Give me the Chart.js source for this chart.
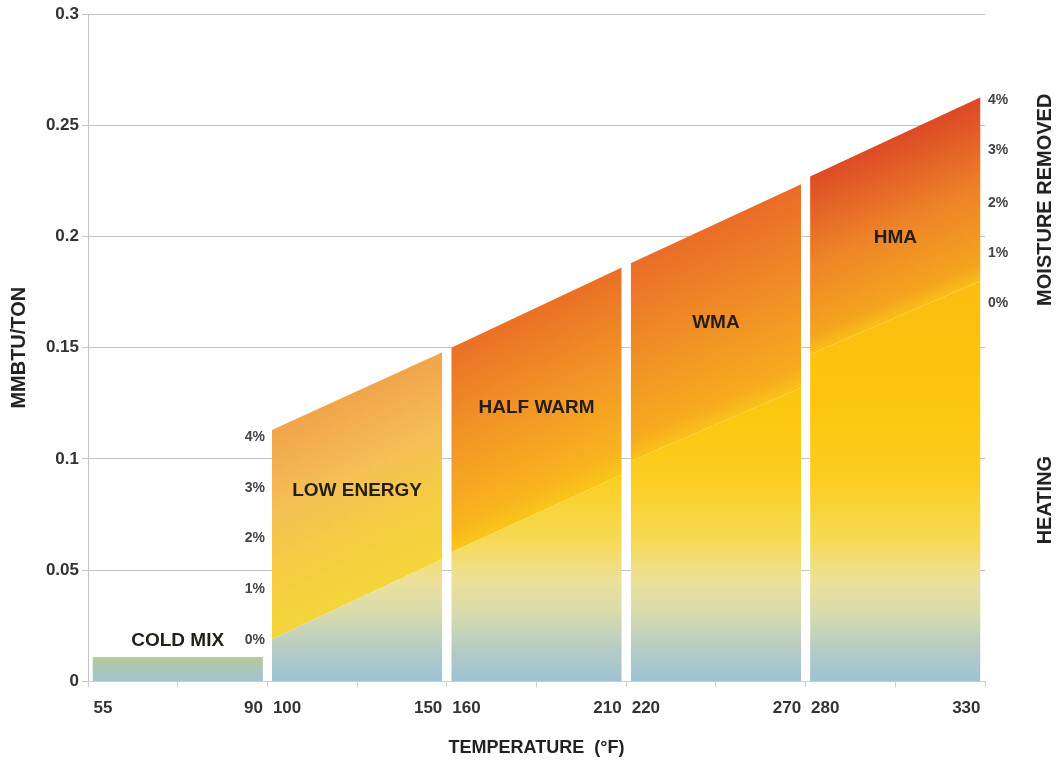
<!DOCTYPE html>
<html>
<head>
<meta charset="utf-8">
<script src="https://cdn.jsdelivr.net/npm/chart.js@4.4.1/dist/chart.umd.min.js"></script>
<style>
  html, body { margin: 0; padding: 0; background: #fff; }
</style>
</head>
<body>
<canvas id="chart" width="1058" height="764"></canvas>
<script>
// panels (temperature ranges and energy levels)
const panelNames = ["COLD MIX", "LOW ENERGY", "HALF WARM", "WMA", "HMA"];
const tempStart = [55, 100, 160, 220, 280];
const tempEnd = [90, 150, 210, 270, 330];
const topStart = [0.011, 0.113, 0.150, 0.188, 0.227];
const topEnd = [0.011, 0.148, 0.186, 0.2235, 0.2626];
const heatStart = [0.011, 0.019, 0.058, 0.099, 0.147];
const heatEnd = [0.011, 0.055, 0.093, 0.132, 0.180];
const nameLevel = [0.0184, 0.0859, 0.1232, 0.1614, 0.1992];

// moisture scale labels
const pctLabels = ["0%", "1%", "2%", "3%", "4%"];
const pctLow = [0.0184, 0.0414, 0.0643, 0.0868, 0.1097];
const pctHigh = [0.170, 0.1925, 0.2149, 0.2388, 0.2612];

const sideTitles = ["MOISTURE REMOVED", "HEATING"];
const sideLevel = [0.2165, 0.0815];

const FONT = "'Liberation Sans', Arial, Helvetica, sans-serif";
const INSET = 0.05;

const coldStops = [[0, "#9fc3d2"], [0.011, "#b7c99d"]];
const heatStops = [
  [0, "#9dc2d3"], [0.015, "#b6ccc4"], [0.03, "#d6dbad"], [0.045, "#ede09a"],
  [0.062, "#f6da58"], [0.09, "#fbce22"], [0.12, "#fcc70f"], [0.18, "#fbbd10"]
];
// moisture layer stops, 0 = heating line, 1 = top edge
const moistStops = [
  null,
  [[0, "#f3d63a"], [0.3, "#f6cc42"], [0.62, "#f5bf55"], [1, "#f0a44c"]],
  [[0, "#fac61a"], [0.12, "#f8b41e"], [0.55, "#f29426"], [1, "#ea7026"]],
  [[0, "#fac21a"], [0.1, "#f6ac1e"], [0.55, "#f08c26"], [1, "#ea6c28"]],
  [[0, "#f9be18"], [0.1, "#f4a41e"], [0.5, "#ee8428"], [1, "#dc4a26"]]
];

// each panel takes two units of the broken x axis
function toAxis(i, t) {
  const f = (t - tempStart[i]) / (tempEnd[i] - tempStart[i]);
  return 2 * i + INSET + f * (2 - 2 * INSET);
}

function vGradient(chart, stops, from, to) {
  const { ctx, chartArea, scales } = chart;
  if (!chartArea) return stops[0][1];
  const y0 = scales.y.getPixelForValue(from);
  const y1 = scales.y.getPixelForValue(to);
  const g = ctx.createLinearGradient(0, y0, 0, y1);
  stops.forEach(([v, c]) => {
    g.addColorStop(Math.min(1, Math.max(0, (v - from) / (to - from))), c);
  });
  return g;
}

// gradient running across the slanted moisture band
function slantGradient(chart, i, stops) {
  const { ctx, chartArea, scales: { x, y } } = chart;
  if (!chartArea) return stops[0][1];
  const xl = x.getPixelForValue(toAxis(i, tempStart[i]));
  const xr = x.getPixelForValue(toAxis(i, tempEnd[i]));
  const hl = y.getPixelForValue(heatStart[i]);
  const hr = y.getPixelForValue(heatEnd[i]);
  const tl = y.getPixelForValue(topStart[i]);
  const tr = y.getPixelForValue(topEnd[i]);
  let dx = xr - xl, dy = hr - hl;
  const len = Math.hypot(dx, dy);
  dx /= len; dy /= len;
  const nx = dy, ny = -dx;
  const mx = (xl + xr) / 2, my = (hl + hr) / 2;
  const h = ((xl + xr) / 2 - mx) * nx + ((tl + tr) / 2 - my) * ny;
  const g = ctx.createLinearGradient(mx, my, mx + nx * h, my + ny * h);
  stops.forEach(([f, c]) => g.addColorStop(f, c));
  return g;
}

const datasets = [];
panelNames.forEach((name, i) => {
  datasets.push({
    label: name + " heating",
    data: [
      { x: toAxis(i, tempStart[i]), y: heatStart[i] },
      { x: toAxis(i, tempEnd[i]), y: heatEnd[i] }
    ],
    fill: "origin",
    backgroundColor: (c) =>
      i === 0 ? vGradient(c.chart, coldStops, 0, 0.011) : vGradient(c.chart, heatStops, 0, 0.18)
  });
  if (i > 0) {
    datasets.push({
      label: name + " moisture",
      data: [
        { x: toAxis(i, tempStart[i]), y: topStart[i] },
        { x: toAxis(i, tempEnd[i]), y: topEnd[i] }
      ],
      fill: "-1",
      backgroundColor: (c) => slantGradient(c.chart, i, moistStops[i])
    });
  }
});

const labelsPlugin = {
  id: "labels",
  afterDatasetsDraw(chart) {
    const { ctx, scales: { x, y } } = chart;
    ctx.save();
    ctx.textBaseline = "middle";

    // panel names
    ctx.fillStyle = "#241e18";
    ctx.font = "bold 19px " + FONT;
    ctx.textAlign = "center";
    panelNames.forEach((n, i) => {
      ctx.fillText(n, x.getPixelForValue(2 * i + 1), y.getPixelForValue(nameLevel[i]));
    });

    // temperature labels at panel edges
    ctx.fillStyle = "#333";
    ctx.font = "bold 17px " + FONT;
    const ty = x.top + 27;
    panelNames.forEach((n, i) => {
      ctx.textAlign = "left";
      ctx.fillText(String(tempStart[i]), x.getPixelForValue(toAxis(i, tempStart[i])) + 1, ty);
      ctx.textAlign = "right";
      ctx.fillText(String(tempEnd[i]), x.getPixelForValue(toAxis(i, tempEnd[i])), ty);
    });

    // moisture percentages
    ctx.fillStyle = "#444";
    ctx.font = "bold 14px " + FONT;
    ctx.textAlign = "right";
    const lx = x.getPixelForValue(toAxis(1, tempStart[1])) - 7;
    pctLabels.forEach((p, k) => ctx.fillText(p, lx, y.getPixelForValue(pctLow[k])));
    ctx.textAlign = "left";
    pctLabels.forEach((p, k) => ctx.fillText(p, x.right + 3, y.getPixelForValue(pctHigh[k])));

    // right side titles
    ctx.fillStyle = "#222";
    ctx.font = "bold 20px " + FONT;
    ctx.textAlign = "center";
    sideTitles.forEach((t, k) => {
      ctx.save();
      ctx.translate(x.right + 60, y.getPixelForValue(sideLevel[k]));
      ctx.rotate(-Math.PI / 2);
      ctx.fillText(t, 0, 0);
      ctx.restore();
    });
    ctx.restore();
  }
};

new Chart(document.getElementById("chart"), {
  type: "line",
  data: { datasets },
  options: {
    responsive: false,
    animation: false,
    layout: { padding: { left: 0, top: 14, right: 73, bottom: 5 } },
    elements: {
      line: { borderWidth: 0, borderColor: "rgba(0,0,0,0)", tension: 0 },
      point: { radius: 0, hoverRadius: 0 }
    },
    plugins: { legend: { display: false }, tooltip: { enabled: false } },
    events: [],
    scales: {
      x: {
        type: "linear",
        min: 0,
        max: 10,
        ticks: { display: false, stepSize: 1 },
        grid: { drawOnChartArea: false, tickLength: 6, color: "#cfcfcf" },
        border: { color: "#cfcfcf" },
        title: {
          display: true,
          text: "TEMPERATURE  (°F)",
          color: "#222",
          font: { family: FONT, size: 18, weight: "bold" },
          padding: { top: 50, bottom: 0 }
        }
      },
      y: {
        min: 0,
        max: 0.3,
        ticks: {
          stepSize: 0.05,
          padding: 3,
          color: "#333",
          font: { family: FONT, size: 17, weight: "bold" },
          callback: (v) => String(+v.toFixed(2))
        },
        grid: { color: "#c4c4c4", tickLength: 6 },
        border: { color: "#c4c4c4" },
        title: {
          display: true,
          text: "MMBTU/TON",
          color: "#222",
          font: { family: FONT, size: 20, weight: "bold" },
          padding: { top: 7, bottom: 0 }
        },
        afterFit: (s) => { s.width = 88; }
      }
    }
  },
  plugins: [labelsPlugin]
});
</script>
</body>
</html>
